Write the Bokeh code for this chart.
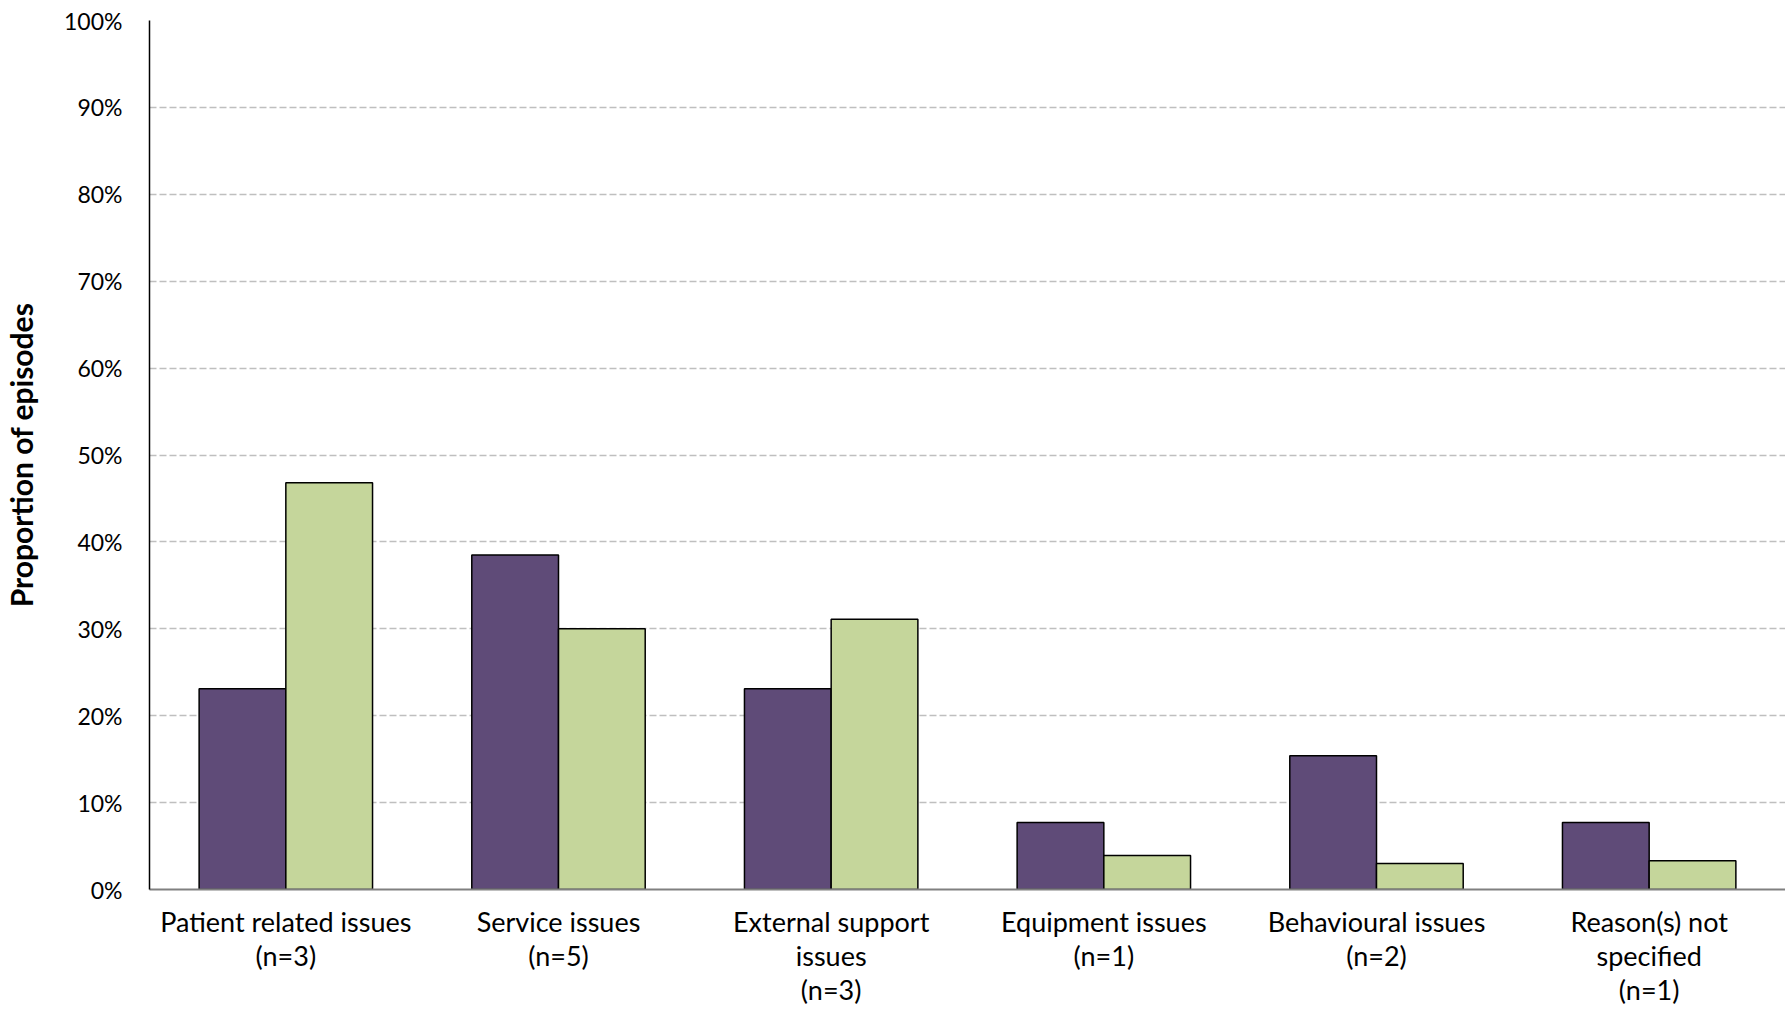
from bokeh.plotting import figure
from bokeh.models import ColumnDataSource, FactorRange, Range1d, FixedTicker, CustomJSTickFormatter, CategoricalAxis
from bokeh.transform import dodge
from bokeh.embed import file_html
from bokeh.resources import INLINE

category_lines = [
    ["Patient related issues", "(n=3)", ""],
    ["Service issues", "(n=5)", ""],
    ["External support", "issues", "(n=3)"],
    ["Equipment issues", "(n=1)", ""],
    ["Behavioural issues", "(n=2)", ""],
    ["Reason(s) not", "specified", "(n=1)"],
]
categories = [" ".join(l for l in lines if l) for lines in category_lines]
series_a = [23.1, 38.5, 23.1, 7.7, 15.4, 7.7]
series_b = [46.8, 30.0, 31.1, 3.9, 3.0, 3.3]
y_ticks = [0, 10, 20, 30, 40, 50, 60, 70, 80, 90, 100]

FONT = "Lato"

src = ColumnDataSource(data=dict(cat=categories, a=series_a, b=series_b))

p = figure(
    width=1785, height=1008,
    x_range=FactorRange(factors=categories, range_padding=0),
    y_range=Range1d(0, 100),
    output_backend="svg", toolbar_location=None,
    min_border_left=149, min_border_right=0, min_border_top=20, min_border_bottom=20,
)
p.outline_line_color = None

bw = 0.318
p.vbar(x=dodge("cat", -bw / 2, range=p.x_range), top="a", width=bw, source=src,
       fill_color="#5F4B78", line_color="black", line_width=1.5)
p.vbar(x=dodge("cat", bw / 2, range=p.x_range), top="b", width=bw, source=src,
       fill_color="#C5D69B", line_color="black", line_width=1.5)

p.xgrid.grid_line_color = None
p.ygrid.grid_line_color = "#BFBFBF"
p.ygrid.grid_line_dash = "7 3"
p.ygrid.grid_line_width = 1.5

p.yaxis.ticker = FixedTicker(ticks=y_ticks)
p.yaxis.formatter = CustomJSTickFormatter(code="return tick.toFixed(0) + '%';")
p.yaxis.major_tick_line_color = None
p.yaxis.minor_tick_line_color = None
p.yaxis.axis_line_color = "black"
p.yaxis.axis_line_width = 1.5
p.yaxis.major_label_text_font = FONT
p.yaxis.major_label_text_font_size = "23px"
p.yaxis.major_label_text_color = "black"
p.yaxis.major_label_standoff = 21
p.yaxis.axis_label = "Proportion of episodes"
p.yaxis.axis_label_text_font = FONT
p.yaxis.axis_label_text_font_style = "bold"
p.yaxis.axis_label_text_font_size = "30px"
p.yaxis.axis_label_text_color = "black"
p.yaxis.axis_label_standoff = 22


def style_x(ax, line_no, standoff):
    mapping = {c: lines[line_no] for c, lines in zip(categories, category_lines)}
    ax.formatter = CustomJSTickFormatter(args=dict(m=mapping), code="return m[tick] || '';")
    ax.major_tick_line_color = None
    ax.minor_tick_line_color = None
    ax.major_label_text_font = FONT
    ax.major_label_text_font_size = "27px"
    ax.major_label_text_color = "black"
    ax.major_label_standoff = standoff


xa = p.xaxis[0]
xa.axis_line_color = "#808080"
xa.axis_line_width = 2
style_x(xa, 0, 9)

for i in (1, 2):
    ax = CategoricalAxis(axis_line_color=None)
    style_x(ax, i, -8)
    p.add_layout(ax, "below")

open("out.html", "w").write(file_html(p, INLINE))
